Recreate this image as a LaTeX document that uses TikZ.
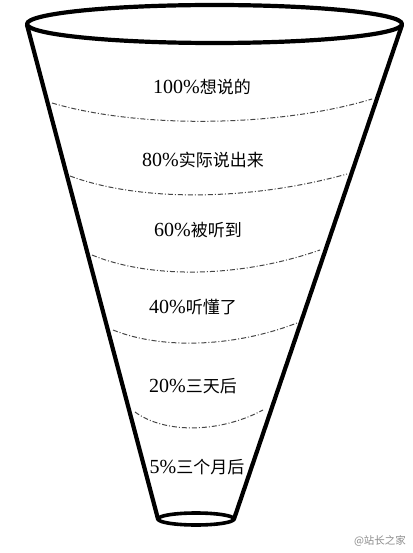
\documentclass[tikz,border=0pt]{standalone}
\usepackage{fontspec}
\setmainfont{Liberation Serif}
\newfontfamily\cjk{Noto Sans CJK SC}
\usetikzlibrary{positioning}
\definecolor{cutgray}{RGB}{70,70,70}
\definecolor{markgray}{RGB}{140,140,140}
\newcommand\lvltext[2]{{\fontsize{20}{20}\selectfont #1}{\cjk\fontsize{17}{17}\selectfont #2}}

\begin{document}
\begin{tikzpicture}[x=1pt,y=-1pt,
    wall/.style={line width=4.2pt,line cap=round,line join=round},
    cutline/.style={cutgray,line width=1pt,dash pattern=on 5pt off 2pt on 1pt off 2pt},
    lvl/.style={inner sep=0pt,anchor=center}]
  \useasboundingbox[fill=white] (0,0) rectangle (412,553);
  % funnel walls and rims
  \draw[wall] (27,25) -- (158,519);
  \draw[wall] (402,25) -- (234,519);
  \draw[wall] (214.5,24) ellipse [x radius=187.5, y radius=19];
  \draw[wall,line width=3.6pt] (196,519) ellipse [x radius=38, y radius=6];
  % cuts between the levels
  \draw[cutline] (52,103) .. controls (140,129) and (280,127) .. (372,99);
  \draw[cutline] (70,176) .. controls (140,202) and (250,201) .. (347,174);
  \draw[cutline] (92,255) .. controls (150,279) and (240,278) .. (320,250);
  \draw[cutline] (113,330) .. controls (160,349) and (232,348) .. (297,323);
  \draw[cutline] (135,412) .. controls (165,434) and (220,433) .. (263,410);
  % level labels
  \node[lvl] (said)  at (202,87)  {\lvltext{100\%}{想说的}};
  \node[lvl] (spoke) at (203,160) {\lvltext{80\%}{实际说出来}};
  \node[lvl] (heard) at (198,230) {\lvltext{60\%}{被听到}};
  \node[lvl] (got)   at (193,307) {\lvltext{40\%}{听懂了}};
  \node[lvl] (days)  at (193,386) {\lvltext{20\%}{三天后}};
  \node[lvl] (months) at (197,467) {\lvltext{5\%}{三个月后}};
  \node[inner sep=0pt,markgray,font=\cjk\fontsize{10.5}{11}\selectfont] (mark) at (380,541) {@站长之家};
\end{tikzpicture}
\end{document}
